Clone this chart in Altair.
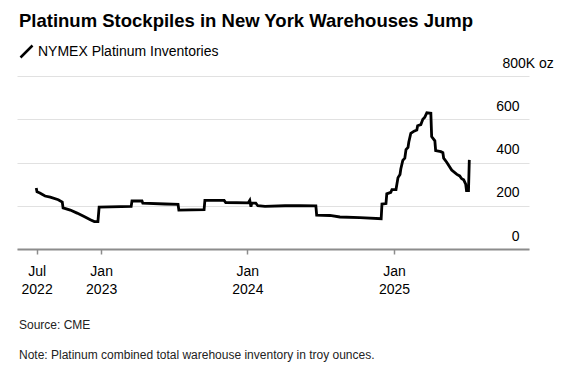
import altair as alt
import pandas as pd

# ---- data ----
dates = [
    "2022-07-23", "2022-07-25", "2022-08-01", "2022-08-14", "2022-08-27", "2022-09-16",
    "2022-09-26", "2022-09-28", "2022-10-16", "2022-11-02", "2022-11-22", "2022-12-05",
    "2022-12-15", "2022-12-24", "2022-12-27", "2023-03-17", "2023-03-19", "2023-04-13",
    "2023-04-15", "2023-06-10", "2023-07-12", "2023-07-14", "2023-09-15", "2023-09-17",
    "2023-11-04", "2023-11-08", "2024-01-03", "2024-01-07", "2024-01-10", "2024-01-12",
    "2024-01-22", "2024-01-27", "2024-02-14", "2024-04-04", "2024-05-11", "2024-06-20",
    "2024-06-22", "2024-07-25", "2024-08-19", "2024-10-08", "2024-11-30", "2024-12-02",
    "2024-12-12", "2024-12-14", "2024-12-24", "2024-12-27", "2025-01-06", "2025-01-11",
    "2025-01-16", "2025-01-18", "2025-01-23", "2025-01-28", "2025-01-31", "2025-02-05",
    "2025-02-07", "2025-02-12", "2025-02-20", "2025-02-27", "2025-03-01", "2025-03-09",
    "2025-03-14", "2025-03-19", "2025-03-24", "2025-04-03", "2025-04-05", "2025-04-13",
    "2025-04-15", "2025-04-28", "2025-05-03", "2025-05-05", "2025-05-13", "2025-05-25",
    "2025-06-07", "2025-06-14", "2025-06-19", "2025-06-24", "2025-06-29", "2025-07-01",
    "2025-07-06", "2025-07-08",
]
values = [
    282, 265, 259, 245, 240, 228,
    217, 190, 180, 166, 148, 135,
    127, 127, 194, 197, 222, 222,
    212, 208, 206, 180, 182, 225,
    225, 215, 213, 225, 195, 213,
    212, 200, 197, 200, 201, 199,
    157, 155, 148, 145, 140, 208,
    210, 255, 262, 275, 275, 330,
    345, 370, 410, 420, 460, 470,
    495, 535, 545, 550, 570, 575,
    600, 610, 630, 628, 520, 500,
    455, 450, 445, 420, 400, 365,
    345, 338, 325, 320, 300, 270,
    270, 412,
]
series_name = "NYMEX Platinum Inventories"
y_ticks = [0, 200, 400, 600, 800]

title_text = "Platinum Stockpiles in New York Warehouses Jump"
source_text = "Source: CME"
note_text = "Note: Platinum combined total warehouse inventory in troy ounces."

FONT = "Liberation Sans"

df = pd.DataFrame({"date": dates, "value": values, "series": series_name})

x_tick_values = [
    alt.DateTime(year=2022, month=7, date=24),
    alt.DateTime(year=2023, month=1, date=1),
    alt.DateTime(year=2024, month=1, date=1),
    alt.DateTime(year=2025, month=1, date=1),
]

line = alt.Chart(df).mark_line(strokeWidth=2.8).encode(
    x=alt.X(
        "date:T",
        scale=alt.Scale(domain=[alt.DateTime(year=2022, month=6, date=5),
                                alt.DateTime(year=2025, month=12, date=4)]),
        axis=alt.Axis(
            title=None, values=x_tick_values, grid=False,
            labelExpr="[timeFormat(datum.value, '%b'), timeFormat(datum.value, '%Y')]",
            labelFont=FONT, labelFontSize=14, labelColor="#000", labelLineHeight=18,
            labelPadding=10, labelFlush=False, labelOverlap=False,
            domainColor="#8c8c8c", domainWidth=2,
            tickColor="#8c8c8c", tickWidth=1.5, tickSize=5,
        ),
    ),
    y=alt.Y(
        "value:Q",
        scale=alt.Scale(domain=[0, 800], nice=False),
        axis=alt.Axis(
            title=None, orient="right", values=y_ticks, grid=True,
            gridColor="#e1e1e1", gridWidth=1, domain=False, ticks=False,
            labelExpr="datum.value == 800 ? '800K oz' : datum.label",
            labelAlign={"condition": {"test": "datum.value == 800", "value": "left"}, "value": "right"},
            labelPadding={"condition": {"test": "datum.value == 800", "value": -27}, "value": -10},
            labelBaseline="alphabetic", labelOffset=-9,
            labelFont=FONT, labelFontSize=14, labelColor="#000",
            labelFlush=False, labelOverlap=False,
        ),
    ),
    color=alt.Color(
        "series:N",
        scale=alt.Scale(range=["#000000"]),
        legend=alt.Legend(
            title=None, orient="none", legendX=2, legendY=-32,
            symbolType="M-1,1L1,-1", symbolSize=144, symbolStrokeWidth=2.5,
            symbolStrokeColor="#000", labelFont=FONT, labelFontSize=14,
            labelColor="#000", labelOffset=4, labelLimit=0,
        ),
    ),
)

title = alt.Chart(pd.DataFrame({"t": [title_text]})).mark_text(
    align="left", baseline="alphabetic", font=FONT, fontSize=18.5,
    fontWeight="bold", color="#000",
).encode(text="t:N", x=alt.value(2), y=alt.value(-49))

source = alt.Chart(pd.DataFrame({"t": [source_text]})).mark_text(
    align="left", baseline="alphabetic", font=FONT, fontSize=12, color="#222",
).encode(text="t:N", x=alt.value(2), y=alt.value(253))

note = alt.Chart(pd.DataFrame({"t": [note_text]})).mark_text(
    align="left", baseline="alphabetic", font=FONT, fontSize=12, color="#222",
).encode(text="t:N", x=alt.value(2), y=alt.value(283))

chart = alt.layer(line, title, source, note).properties(
    width=512, height=173,
    autosize=alt.AutoSizeParams(type="none"),
    padding={"left": 9, "top": 68, "right": 35, "bottom": 116},
).configure_view(stroke=None)

chart.save("out.html", embed_options={"renderer": "svg", "actions": False})
